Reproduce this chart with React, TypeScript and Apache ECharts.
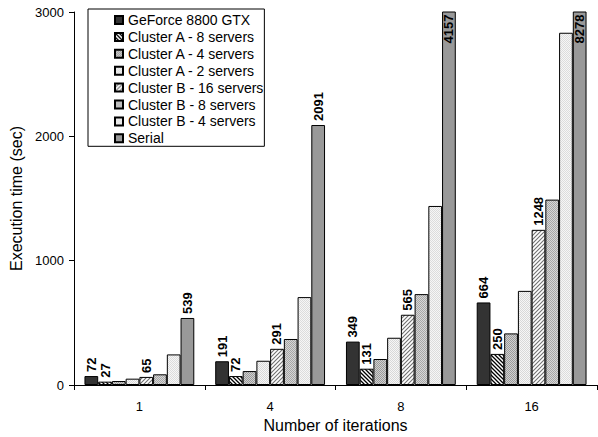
import React, { useEffect, useRef } from "react";
import * as echarts from "echarts";

const categories = ["1", "4", "8", "16"];
const seriesNames = [
  "GeForce 8800 GTX",
  "Cluster A - 8 servers",
  "Cluster A - 4 servers",
  "Cluster A - 2 servers",
  "Cluster B - 16 servers",
  "Cluster B - 8 servers",
  "Cluster B - 4 servers",
  "Serial",
];
const geforce = [72, 191, 349, 664];
const clusterA8 = [27, 72, 131, 250];
const clusterA4 = [32, 112, 209, 415];
const clusterA2 = [51, 195, 380, 757];
const clusterB16 = [65, 291, 565, 1248];
const clusterB8 = [86, 370, 731, 1491];
const clusterB4 = [246, 707, 1440, 2833];
const serial = [539, 2091, 4157, 8278];
const yTicks = [0, 1000, 2000, 3000];

const seriesValues = [geforce, clusterA8, clusterA4, clusterA2, clusterB16, clusterB8, clusterB4, serial];
const labelledSeries = [0, 1, 4, 7];

function hatch(dir: "/" | "\\", line: string, bg: string, size: number, lw: number) {
  const c = document.createElement("canvas");
  c.width = size;
  c.height = size;
  const ctx = c.getContext("2d")!;
  ctx.fillStyle = bg;
  ctx.fillRect(0, 0, size, size);
  ctx.strokeStyle = line;
  ctx.lineWidth = lw;
  ctx.beginPath();
  if (dir === "/") {
    ctx.moveTo(-1, size + 1);
    ctx.lineTo(size + 1, -1);
    ctx.moveTo(-1, 1);
    ctx.lineTo(1, -1);
    ctx.moveTo(size - 1, size + 1);
    ctx.lineTo(size + 1, size - 1);
  } else {
    ctx.moveTo(-1, -1);
    ctx.lineTo(size + 1, size + 1);
    ctx.moveTo(size - 1, -1);
    ctx.lineTo(size + 1, 1);
    ctx.moveTo(-1, size - 1);
    ctx.lineTo(1, size + 1);
  }
  ctx.stroke();
  return { image: c, repeat: "repeat" };
}

function dots(fg: string, bg: string) {
  const c = document.createElement("canvas");
  c.width = 2;
  c.height = 2;
  const ctx = c.getContext("2d")!;
  ctx.fillStyle = bg;
  ctx.fillRect(0, 0, 2, 2);
  ctx.fillStyle = fg;
  ctx.fillRect(0, 0, 1, 1);
  ctx.fillRect(1, 1, 1, 1);
  return { image: c, repeat: "repeat" };
}

export default function App() {
  const ref = useRef<HTMLDivElement>(null);
  useEffect(() => {
    document.body.style.margin = "0";
    const chart = echarts.init(ref.current!, null, { renderer: "svg" });
    const yMax = yTicks[yTicks.length - 1];
    const fills: any[] = [
      "#333333",
      hatch("\\", "#000000", "#ffffff", 4, 1.3),
      dots("#9a9a9a", "#d0d0d0"),
      dots("#d8d8d8", "#f6f6f6"),
      hatch("/", "#707070", "#ffffff", 4, 1.1),
      dots("#a6a6a6", "#d6d6d6"),
      dots("#dcdcdc", "#f6f6f6"),
      "#999999",
    ];
    const font = "Liberation Sans, Arial, sans-serif";
    const series = seriesNames.map((name, i) => ({
      name,
      type: "bar",
      barGap: "0%",
      barCategoryGap: "16%",
      clip: true,
      itemStyle: { color: fills[i], borderColor: "#000", borderWidth: 1 },
      data: seriesValues[i].map((v) => {
        const over = v > yMax;
        return {
          value: v,
          label: {
            show: labelledSeries.includes(i),
            position: over ? "insideTop" : "top",
            rotate: 90,
            align: over ? "right" : "left",
            verticalAlign: "middle",
            distance: over ? 3 : 4,
            fontFamily: font,
            fontSize: 13,
            fontWeight: "bold",
            color: "#000",
            formatter: String(v),
          },
        };
      }),
    }));
    chart.setOption({
      animation: false,
      backgroundColor: "#fff",
      textStyle: { fontFamily: font },
      grid: { left: 74, right: 1, top: 12, bottom: 52, outerBoundsMode: "none", containLabel: false },
      legend: {
        orient: "vertical",
        left: 88,
        top: 9,
        data: seriesNames,
        itemWidth: 8,
        itemHeight: 8,
        itemGap: 2.9,
        icon: "rect",
        backgroundColor: "#fff",
        borderColor: "#000",
        borderWidth: 1,
        borderRadius: 0,
        padding: [4, 1, 1, 26],
        textStyle: { fontFamily: font, fontSize: 14, color: "#000" },
      },
      xAxis: {
        type: "category",
        data: categories,
        name: "Number of iterations",
        nameLocation: "middle",
        nameGap: 32,
        nameTextStyle: { fontFamily: font, fontSize: 16, color: "#000" },
        axisLine: { lineStyle: { color: "#000", width: 1 } },
        axisTick: { show: true, length: 5, lineStyle: { color: "#000" } },
        axisLabel: { fontFamily: font, fontSize: 13, color: "#000", margin: 15 },
      },
      yAxis: {
        type: "value",
        min: yTicks[0],
        max: yMax,
        interval: yTicks[1] - yTicks[0],
        name: "Execution time (sec)",
        nameLocation: "middle",
        nameGap: 46,
        nameTextStyle: { fontFamily: font, fontSize: 16, color: "#000" },
        axisLine: { show: true, lineStyle: { color: "#000", width: 1 } },
        axisTick: { show: true, length: 5, lineStyle: { color: "#000" } },
        axisLabel: {
          fontFamily: font,
          fontSize: 13,
          color: "#000",
          margin: 10,
          formatter: (v: number) => String(v),
        },
        splitLine: { show: false },
      },
      series,
    });
    return () => chart.dispose();
  }, []);
  return <div ref={ref} style={{ width: 598, height: 437 }} />;
}
